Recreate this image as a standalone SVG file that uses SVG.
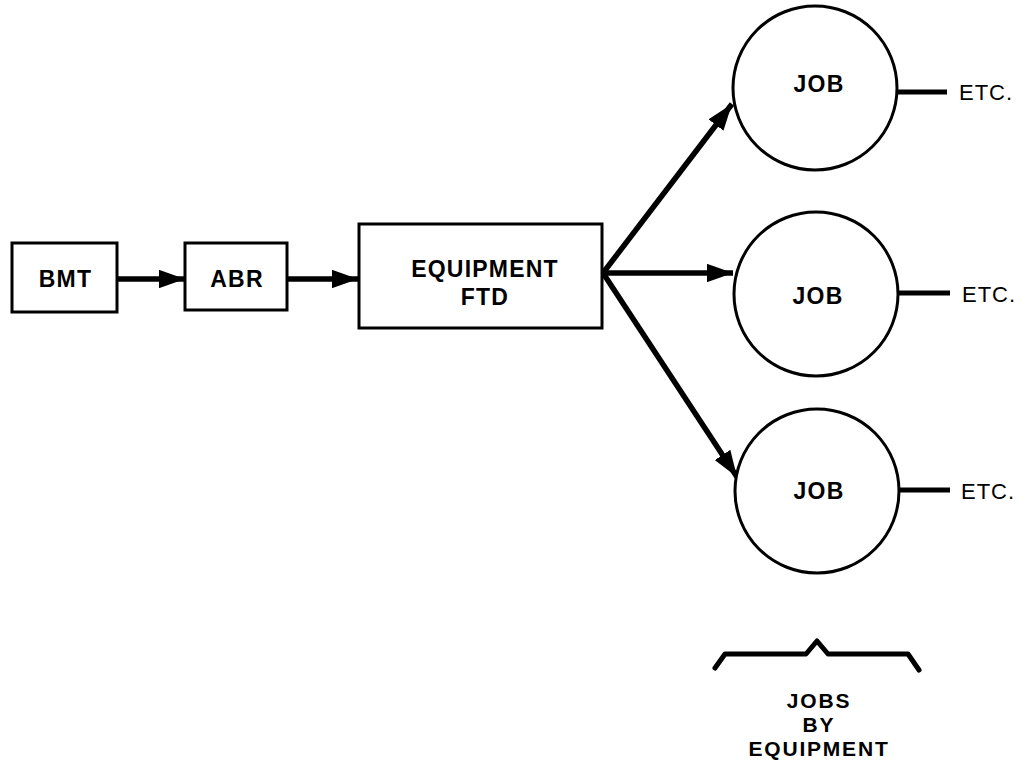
<svg xmlns="http://www.w3.org/2000/svg" width="1022" height="770" viewBox="0 0 1022 770">
<style>
.box{fill:#fff;stroke:#000;stroke-width:3}
.circ{fill:#fff;stroke:#000;stroke-width:3}
.t{font-family:"Liberation Sans",Arial,sans-serif;font-size:23px;font-weight:bold;letter-spacing:1.2px;fill:#000;text-anchor:middle}
.tb{font-family:"Liberation Sans",Arial,sans-serif;font-size:21px;font-weight:bold;letter-spacing:1.8px;fill:#000;text-anchor:middle}
.tl{font-family:"Liberation Sans",Arial,sans-serif;font-size:22px;letter-spacing:1px;fill:#000}
.conn{stroke:#000;stroke-width:5.5;fill:none}
.thin{stroke:#000;stroke-width:5;fill:none}
</style>
<defs>
<marker id="ah" markerWidth="4.8" markerHeight="3.4" refX="4.8" refY="1.7" orient="auto" markerUnits="strokeWidth">
<path d="M0,0 L4.8,1.7 L0,3.4 z" fill="#000"/>
</marker>
</defs>
<rect width="1022" height="770" fill="#fff"/>
<g id="connectors">
<line class="conn" x1="117" y1="279" x2="185" y2="279" marker-end="url(#ah)"/>
<line class="conn" x1="287" y1="279" x2="358" y2="279" marker-end="url(#ah)"/>
<line class="conn" x1="603" y1="273" x2="732" y2="104" marker-end="url(#ah)"/>
<line class="conn" x1="603" y1="273" x2="733" y2="273" marker-end="url(#ah)"/>
<line class="conn" x1="603" y1="273" x2="737" y2="477" marker-end="url(#ah)"/>
<line class="thin" x1="897" y1="92" x2="947" y2="92"/>
<line class="thin" x1="898" y1="293" x2="950" y2="293"/>
<line class="thin" x1="899" y1="490" x2="950" y2="490"/>
</g>
<g id="bmt">
<rect class="box" x="12" y="243" width="105" height="69"/>
<text class="t" x="65.500" y="287">BMT</text>
</g>
<g id="abr">
<rect class="box" x="185" y="243" width="102" height="67"/>
<text class="t" x="237" y="287">ABR</text>
</g>
<g id="equipment">
<rect class="box" x="359" y="224" width="243" height="104"/>
<text class="t" x="485" y="277">EQUIPMENT</text>
<text class="t" x="485" y="305">FTD</text>
</g>
<g id="job1">
<circle class="circ" cx="815" cy="88" r="82"/>
<text class="t" x="819" y="92">JOB</text>
<text class="tl" x="959" y="100">ETC.</text>
</g>
<g id="job2">
<circle class="circ" cx="816" cy="294" r="82"/>
<text class="t" x="818" y="304">JOB</text>
<text class="tl" x="962" y="302">ETC.</text>
</g>
<g id="job3">
<circle class="circ" cx="817" cy="491" r="82"/>
<text class="t" x="819" y="499">JOB</text>
<text class="tl" x="961" y="499">ETC.</text>
</g>
<g id="brace">
<path d="M715,668 L725,654 L806,654 L817,641 L828,654 L908,654 L919,670" fill="none" stroke="#000" stroke-width="5" stroke-linejoin="round" stroke-linecap="round"/>
<text class="tb" x="819" y="708">JOBS</text>
<text class="tb" x="819" y="732">BY</text>
<text class="tb" x="819" y="756">EQUIPMENT</text>
</g>
</svg>
